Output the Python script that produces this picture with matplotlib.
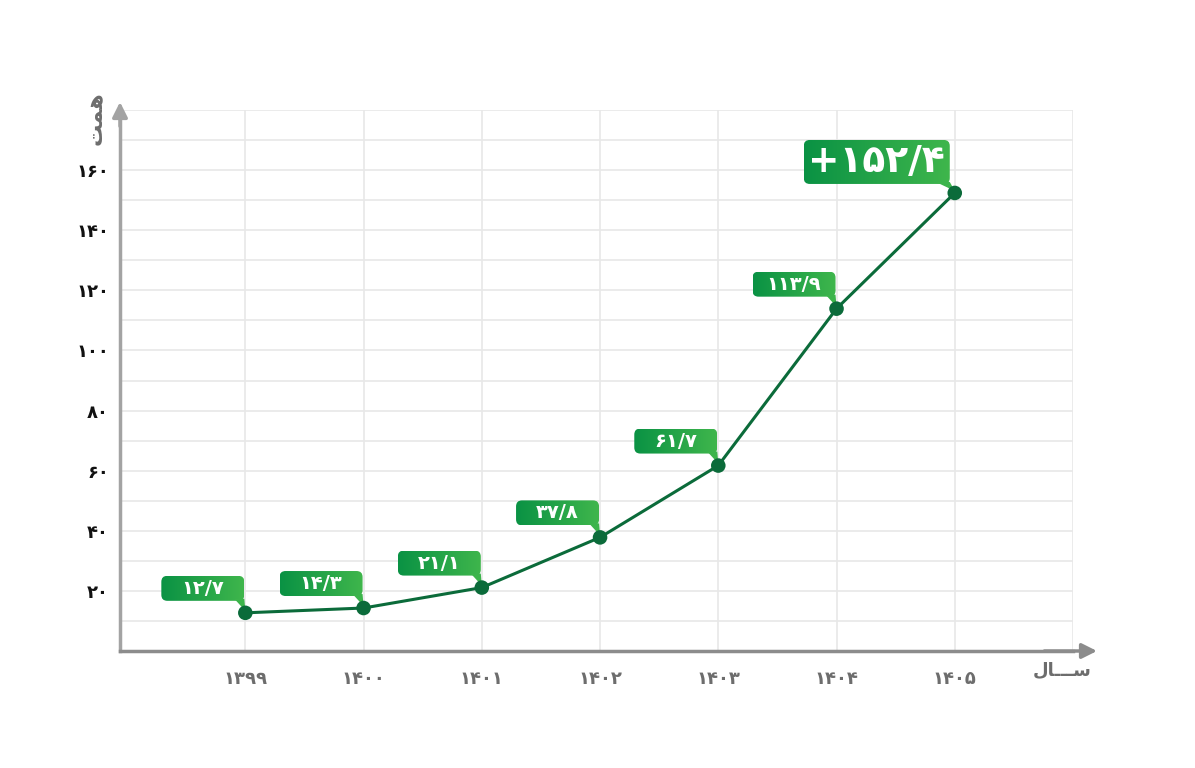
import matplotlib
matplotlib.use("Agg")
import matplotlib.pyplot as plt
import numpy as np
from matplotlib.patches import FancyBboxPatch, Polygon
from matplotlib.transforms import IdentityTransform
from matplotlib.colors import LinearSegmentedColormap

# ---- data ----
years = [1399, 1400, 1401, 1402, 1403, 1404, 1405]
values = [12.7, 14.3, 21.1, 37.8, 61.7, 113.9, 152.4]
y_ticks = [20, 40, 60, 80, 100, 120, 140, 160]
x_label = "\uFEDD\uFE8E\u0640\u0640\u0640\uFEB3"   # سال (pre-shaped)
y_label = "\uFE96\uFEE4\uFEEB"                      # همت (pre-shaped)

FA = str.maketrans("0123456789.", "۰۱۲۳۴۵۶۷۸۹/")
def fa(s):
    return str(s).translate(FA)

plt.rcParams['font.family'] = ['DejaVu Sans']

W, H = 1195, 768
fig = plt.figure(figsize=(W / 100, H / 100), dpi=100)
ax_left, ax_right, ax_bottom, ax_top = 120, 1073, 651, 110
ax = fig.add_axes([ax_left / W, 1 - ax_bottom / H, (ax_right - ax_left) / W, (ax_bottom - ax_top) / H])

XLIM = (1397.94, 1406)
ax.set_xlim(*XLIM)
ax.set_ylim(0, 180)

# grid
for v in range(10, 181, 10):
    ax.axhline(v, color='#e8e8e8', lw=1.2, zorder=0)
for x in range(1399, 1407):
    ax.axvline(x, color='#e8e8e8', lw=1.2, zorder=0)

for s in ['top', 'right']:
    ax.spines[s].set_visible(False)
ax.spines['left'].set_color('#a3a3a3')
ax.spines['bottom'].set_color('#8c8c8c')
for s in ['left', 'bottom']:
    ax.spines[s].set_linewidth(2.5)
    ax.spines[s].set_zorder(1)

# arrows
ax.annotate('', xy=(0, 1.0 + 8 / 541), xytext=(0, 0.97), xycoords='axes fraction',
            arrowprops=dict(arrowstyle='-|>,head_length=0.9,head_width=0.45', color='#a3a3a3', lw=2.5,
                            shrinkA=0, shrinkB=0), annotation_clip=False)
ax.annotate('', xy=(1.0 + 24 / 953, 0), xytext=(0.97, 0), xycoords='axes fraction',
            arrowprops=dict(arrowstyle='-|>,head_length=0.9,head_width=0.45', color='#8c8c8c', lw=2.5,
                            shrinkA=0, shrinkB=0), annotation_clip=False)

ax.set_xticks(years)
ax.set_xticklabels([fa(y) for y in years], color='#6d6d6d', fontsize=13, fontweight='bold')
ax.set_yticks(y_ticks)
ax.set_yticklabels([fa(y) for y in y_ticks], color='#111111', fontsize=13, fontweight='bold')
ax.tick_params(axis='both', length=0)
ax.tick_params(axis='x', pad=14)
ax.tick_params(axis='y', pad=8)

fig.text(1062 / W, 1 - 670 / H, x_label, color='#6d6d6d', fontsize=13, fontweight='bold',
         ha='center', va='center')
fig.text(96 / W, 1 - 118 / H, y_label, color='#6d6d6d', fontsize=16, fontweight='bold',
         ha='center', va='center', rotation=90)

# line + points
ax.plot(years, values, color='#0b6b3a', lw=2.2, zorder=3)
ax.scatter(years, values, s=110, color='#0b6b3a', zorder=5, edgecolors='none')

# labels
cmap = LinearSegmentedColormap.from_list('g', ['#0a9244', '#3fb64c'])
grad = np.linspace(0, 1, 256).reshape(1, -1)
fig.canvas.draw()
inv = ax.transData.inverted()
for i, (x, v) in enumerate(zip(years, values)):
    px, py = ax.transData.transform((x, v))
    big = (i == len(years) - 1)
    if big:
        bw, bh, dx, dy, fs, tail = 146, 44, 5, 9, 27, 14
        txt = '+' + fa(v)
    else:
        bw, bh, dx, dy, fs, tail = 83, 25, 1, 12, 14, 10
        txt = fa(v)
    right = px - dx
    bottom = py + dy
    left = right - bw
    top = bottom + bh
    (x0, y0) = inv.transform((left, bottom))
    (x1, y1) = inv.transform((right, top))
    im = ax.imshow(grad, extent=(x0, x1, y0, y1), aspect='auto', cmap=cmap, zorder=4,
                   interpolation='bilinear')
    patch = FancyBboxPatch((left, bottom), bw, bh, boxstyle='round,pad=0,rounding_size=6',
                           transform=IdentityTransform(), facecolor='none', edgecolor='none')
    ax.add_patch(patch)
    im.set_clip_path(patch)
    tri = Polygon([(right - tail, bottom + 2), (right, bottom + 2), (px, py + 2)], closed=True,
                  transform=IdentityTransform(), facecolor='#3cb44b', edgecolor='none', zorder=4)
    ax.add_patch(tri)
    ax.text((left + right) / 2, (bottom + top) / 2, txt, transform=IdentityTransform(),
            ha='center', va='center', color='white', fontsize=fs, fontweight='bold', zorder=6)

ax.set_xlim(*XLIM)
ax.set_ylim(0, 180)

fig.savefig('out.png', dpi=100)
